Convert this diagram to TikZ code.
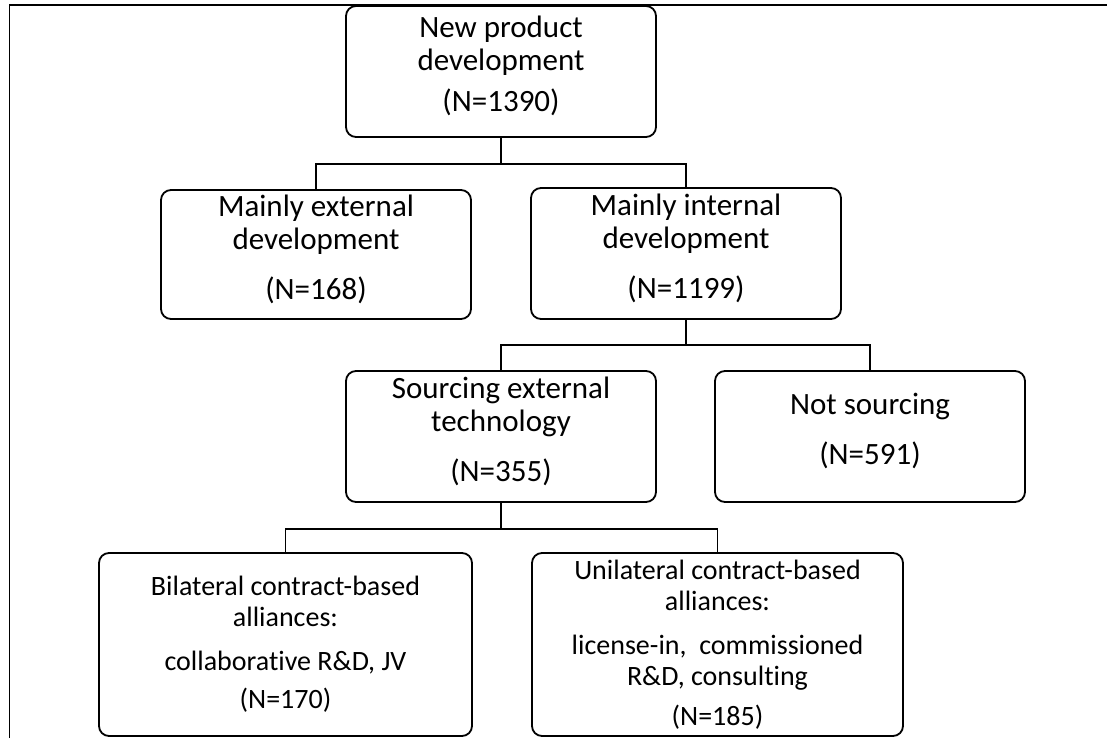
\documentclass[tikz,border=0pt]{standalone}
\usepackage{fontspec}
\setmainfont{Carlito}[Ligatures=NoCommon]
\begin{document}
\begin{tikzpicture}[x=1pt, y=-1pt,
    catbox/.style={rectangle, rounded corners=10pt, draw, line width=1.8pt, align=center,
      inner sep=0pt, minimum width=310pt, minimum height=131pt, text depth=15pt,
      font=\fontsize{31}{33}\selectfont},
    subbox/.style={catbox, minimum height=183pt, text depth=, font=\fontsize{28}{31}\selectfont},
    link/.style={line width=1.8pt}
  ]
  \useasboundingbox (0,0) rectangle (1107,738);
  % frame
  \draw[line width=1.8pt] (9.5,738) -- (9.5,5) -- (1107,5);

  % level 0
  \node[catbox] at (501, 71.5) (npd) {New product\\development\\[8pt](N=1390)};
  % level 1
  \node[catbox, minimum height=129pt] at (316, 254.5) (med) {Mainly external\\development\\[17pt](N=168)};
  \node[catbox] at (686, 253.5) (mid) {Mainly internal\\development\\[17pt](N=1199)};
  % level 2
  \node[catbox] at (501, 436.5) (set) {Sourcing external\\technology\\[17pt](N=355)};
  \node[catbox] at (870, 436.5) (nos) {Not sourcing\\[17pt](N=591)};
  % level 3
  \node[subbox, minimum width=373pt] at (285.5, 644.5) (bca)
    {Bilateral contract-based\\alliances:\\[13pt]collaborative R\&D, JV\\[7pt](N=170)};
  \node[subbox, minimum width=371pt] at (717.5, 644.5) (uca)
    {Unilateral contract-based\\alliances:\\[13pt]license-in,\ \ commissioned\\R\&D, consulting\\[9pt](N=185)};

  % edges
  \draw[link] (npd.south) -- ++(0,26) -| (med.north);
  \draw[link] (npd.south) -- ++(0,26) -| (mid.north);
  \draw[link] (mid.south) -- ++(0,25) -| (set.north);
  \draw[link] (mid.south) -- ++(0,25) -| (nos.north);
  \draw[link] (set.south) -- ++(0,26) -| (bca.north);
  \draw[link] (set.south) -- ++(0,26) -| (uca.north);
\end{tikzpicture}
\end{document}
